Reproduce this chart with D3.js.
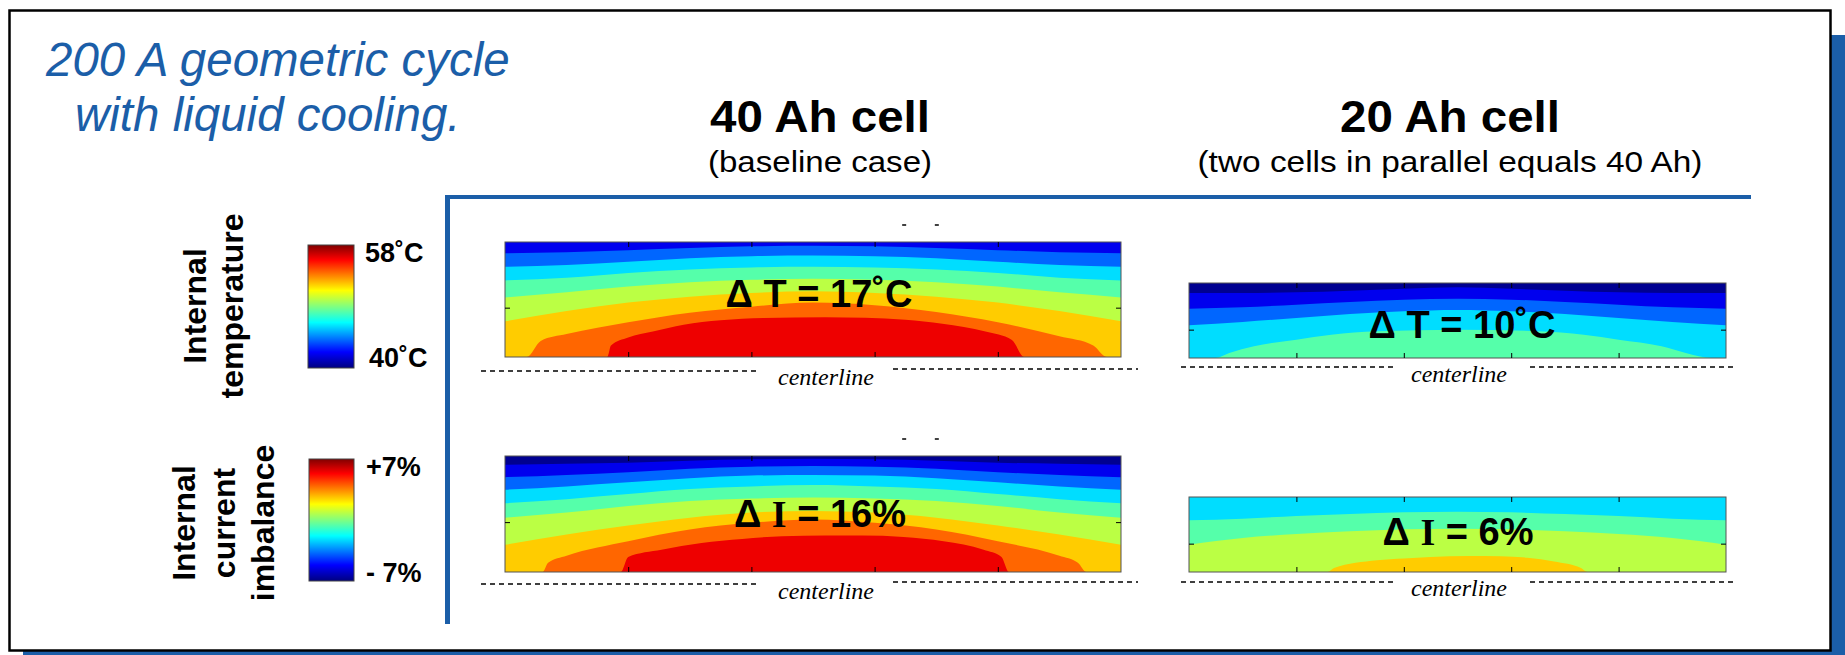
<!doctype html>
<html lang="en">
<head>
  <meta charset="utf-8">
  <title>200 A geometric cycle</title>
  <style>
    body { margin: 0; background: #fff; }
    svg { display: block; }
    .sans { font-family: "Liberation Sans", Arial, sans-serif; fill: #000; }
    .cl { font-family: "Liberation Serif", "Times New Roman", serif; font-style: italic; font-size: 24px; fill: #000; }
    .tick line { stroke: #000; }
    .domain { display: none; }
  </style>
</head>
<body>
<div id="chart"></div>
<script src="https://cdn.jsdelivr.net/npm/d3@7"></script>
<script>
// jet levels used for the contour bands (index = level)
var levelColors = ['#000090', '#0000ee', '#0066ff', '#00ddff', '#55ffaa', '#bbff44', '#ffcc00', '#ff6600', '#ee0000'];
// colour bar stops, top to bottom
var jetStops = [[0, '#800000'], [0.12, '#ff0000'], [0.37, '#ffff00'], [0.5, '#80ff80'], [0.63, '#00ffff'], [0.87, '#0000ff'], [1, '#000080']];

var cellTitles = ['40 Ah cell', '20 Ah cell'];
var cellNotes = ['(baseline case)', '(two cells in parallel equals 40 Ah)'];
var rowNames = [['Internal', 'temperature'], ['Internal', 'current', 'imbalance']];
var barLabels = [['58˚C', '40˚C'], ['+7%', '- 7%']];
var deltaLabels = [['Δ ', 'T', ' = 17˚C'], ['Δ ', 'T', ' = 10˚C'], ['Δ ', 'I', ' = 16%'], ['Δ ', 'I', ' = 6%']];
var xTicks = [0.2, 0.4, 0.6, 0.8];
var yTicks = [0.571, 0.622, 0.57, 0.622];

// contour boundaries: [u across, v down from the top]
var temp40Base = 1;
var temp40Bounds = [
  [[0,.098],[.1,.089],[.2,.071],[.3,.053],[.4,.038],[.5,.033],[.6,.038],[.7,.053],[.8,.071],[.9,.089],[1,.098]],
  [[0,.216],[.1,.201],[.2,.172],[.3,.142],[.4,.124],[.5,.118],[.6,.124],[.7,.142],[.8,.172],[.9,.201],[1,.216]],
  [[0,.334],[.1,.311],[.2,.269],[.3,.240],[.4,.222],[.5,.216],[.6,.222],[.7,.240],[.8,.269],[.9,.311],[1,.334]],
  [[0,.482],[.1,.438],[.2,.388],[.3,.349],[.4,.328],[.5,.320],[.6,.328],[.7,.349],[.8,.388],[.9,.438],[1,.482]],
  [[0,.689],[.1,.601],[.2,.527],[.3,.476],[.4,.444],[.5,.429],[.6,.444],[.7,.476],[.8,.527],[.9,.601],[1,.689]],
  [[0,1],[.035,1],[.058,.86],[.1,.801],[.2,.698],[.3,.615],[.4,.562],[.5,.527],[.6,.55],[.7,.609],[.8,.698],[.9,.82],[.955,.9],[.977,1],[1,1]],
  [[0,1],[.166,1],[.172,.9],[.2,.83],[.24,.778],[.29,.719],[.35,.68],[.42,.66],[.52,.654],[.65,.675],[.71,.71],[.78,.778],[.823,.852],[.843,1],[1,1]]
];
var temp20Base = 0;
var temp20Bounds = [
  [[0,.133],[.1,.133],[.2,.124],[.3,.102],[.4,.076],[.5,.058],[.6,.076],[.7,.102],[.8,.124],[.9,.133],[1,.133]],
  [[0,.342],[.1,.324],[.2,.289],[.3,.253],[.4,.222],[.5,.209],[.6,.222],[.7,.253],[.8,.289],[.9,.324],[1,.342]],
  [[0,.564],[.1,.52],[.2,.467],[.3,.413],[.4,.378],[.5,.36],[.6,.378],[.7,.413],[.8,.467],[.9,.52],[1,.564]],
  [[0,1],[.049,1],[.075,.933],[.121,.844],[.2,.756],[.265,.689],[.35,.644],[.5,.622],[.65,.644],[.735,.689],[.8,.756],[.88,.844],[.925,.933],[.974,1],[1,1]]
];
var curr40Base = 0;
var curr40Bounds = [
  [[0,.076],[.1,.067],[.2,.058],[.3,.041],[.4,.029],[.5,.023],[.6,.029],[.7,.041],[.8,.058],[.9,.067],[1,.076]],
  [[0,.183],[.1,.163],[.2,.14],[.3,.11],[.4,.093],[.5,.087],[.6,.093],[.7,.11],[.8,.14],[.9,.163],[1,.183]],
  [[0,.291],[.1,.262],[.2,.227],[.3,.192],[.4,.169],[.5,.163],[.6,.169],[.7,.192],[.8,.227],[.9,.262],[1,.291]],
  [[0,.407],[.1,.372],[.2,.328],[.3,.285],[.4,.262],[.5,.25],[.6,.262],[.7,.285],[.8,.328],[.9,.372],[1,.407]],
  [[0,.532],[.1,.488],[.2,.43],[.3,.387],[.4,.366],[.5,.358],[.6,.366],[.7,.387],[.8,.43],[.9,.488],[1,.532]],
  [[0,.765],[.1,.677],[.2,.599],[.3,.532],[.4,.488],[.5,.474],[.6,.488],[.7,.532],[.8,.599],[.9,.677],[1,.765]],
  [[0,1],[.061,1],[.07,.92],[.1,.86],[.2,.735],[.3,.634],[.4,.576],[.5,.547],[.6,.576],[.7,.634],[.8,.735],[.9,.86],[.93,.92],[.944,1],[1,1]],
  [[0,1],[.188,1],[.2,.87],[.254,.808],[.319,.75],[.385,.715],[.45,.692],[.52,.686],[.58,.686],[.647,.698],[.712,.735],[.777,.808],[.806,.87],[.818,1],[1,1]]
];
var curr20Base = 3;
var curr20Bounds = [
  [[0,.311],[.1,.289],[.2,.253],[.3,.227],[.4,.204],[.5,.196],[.6,.204],[.7,.227],[.8,.253],[.9,.289],[1,.311]],
  [[0,.636],[.1,.547],[.2,.493],[.3,.458],[.4,.431],[.5,.422],[.6,.431],[.7,.458],[.8,.493],[.9,.547],[1,.636]],
  [[0,1],[.258,1],[.27,.947],[.35,.844],[.4,.82],[.45,.8],[.52,.787],[.58,.79],[.63,.81],[.68,.86],[.73,.947],[.742,1],[1,1]]
];
// the two stray "- -" marks above the 40 Ah maps
var stubMarks = [0.648, 0.701];

(function(){
  var width = 1845, height = 655;
  var blue = '#1b5ea8';

  var svg = d3.select('#chart').append('svg')
      .attr('width', width)
      .attr('height', height);

  // slide frame with its offset blue shadow
  svg.append('rect').attr('x', 23).attr('y', 35).attr('width', 1830).attr('height', 640).attr('fill', blue);
  svg.append('rect').attr('x', 9.5).attr('y', 10.5).attr('width', 1821).attr('height', 640)
      .attr('fill', '#fff').attr('stroke', '#000').attr('stroke-width', 2.5);

  // title
  var title = svg.append('text').attr('class', 'sans')
      .style('font-style', 'italic').style('font-size', '47.5px').style('fill', blue);
  title.append('tspan').attr('x', 46).attr('y', 76).text('200 A geometric cycle');
  title.append('tspan').attr('x', 75).attr('y', 131).text('with liquid cooling.');

  // blue L
  svg.append('line').attr('x1', 447.5).attr('x2', 447.5).attr('y1', 195).attr('y2', 624)
      .attr('stroke', blue).attr('stroke-width', 5);
  svg.append('line').attr('x1', 445).attr('x2', 1751).attr('y1', 197).attr('y2', 197)
      .attr('stroke', blue).attr('stroke-width', 4);

  // column headers
  var colX = [820, 1450];
  var noteLen = [224, 505];
  cellTitles.forEach(function(t, i) {
    svg.append('text').attr('class', 'sans').attr('x', colX[i]).attr('y', 132)
        .attr('text-anchor', 'middle').style('font-size', '44px').style('font-weight', 'bold')
        .attr('textLength', 220).attr('lengthAdjust', 'spacingAndGlyphs').text(t);
    svg.append('text').attr('class', 'sans').attr('x', colX[i]).attr('y', 172)
        .attr('text-anchor', 'middle').style('font-size', '30px')
        .attr('textLength', noteLen[i]).attr('lengthAdjust', 'spacingAndGlyphs').text(cellNotes[i]);
  });

  // row names, rotated
  var rowBase = [[206, 243], [195, 235, 274]];
  var rowMid = [306, 523];
  rowNames.forEach(function(lines, r) {
    lines.forEach(function(s, k) {
      svg.append('text').attr('class', 'sans')
          .attr('transform', 'translate(' + rowBase[r][k] + ',' + rowMid[r] + ') rotate(-90)')
          .attr('text-anchor', 'middle').style('font-size', '32px').style('font-weight', 'bold')
          .text(s);
    });
  });

  // colour bars
  var grad = svg.append('defs').append('linearGradient').attr('id', 'jet')
      .attr('x1', 0).attr('x2', 0).attr('y1', 0).attr('y2', 1);
  grad.selectAll('stop').data(jetStops).enter().append('stop')
      .attr('offset', function(d) { return d[0]; })
      .attr('stop-color', function(d) { return d[1]; });

  var bars = [{x: 308, y0: 245, y1: 368, lx: [365, 369], ly: [262, 367]},
              {x: 309, y0: 459, y1: 581, lx: [366, 366], ly: [476, 582]}];
  bars.forEach(function(b, r) {
    svg.append('rect').attr('x', b.x).attr('y', b.y0).attr('width', 354 - b.x).attr('height', b.y1 - b.y0)
        .attr('fill', 'url(#jet)').attr('stroke', '#444').attr('stroke-width', 1);
    barLabels[r].forEach(function(s, k) {
      svg.append('text').attr('class', 'sans').attr('x', b.lx[k]).attr('y', b.ly[k])
          .style('font-size', '27px').style('font-weight', 'bold').text(s);
    });
  });

  // contour maps
  var panels = [
    {base: temp40Base, bounds: temp40Bounds, x0: 505, x1: 1121, y0: 242, y1: 357,
     tx: 819, ty: 307, cl: {y: [371, 369], l: [481, 760], r: [893, 1138], tx: 826, ty: 385}, stubs: true},
    {base: temp20Base, bounds: temp20Bounds, x0: 1189, x1: 1726, y0: 283, y1: 358,
     tx: 1462, ty: 338, cl: {y: [367, 367], l: [1181, 1393], r: [1530, 1736], tx: 1459, ty: 382}},
    {base: curr40Base, bounds: curr40Bounds, x0: 505, x1: 1121, y0: 456, y1: 572,
     tx: 820, ty: 527, cl: {y: [584, 582], l: [481, 760], r: [893, 1138], tx: 826, ty: 599}, stubs: true},
    {base: curr20Base, bounds: curr20Bounds, x0: 1189, x1: 1726, y0: 497, y1: 572,
     tx: 1458, ty: 545, cl: {y: [582, 582], l: [1181, 1393], r: [1530, 1736], tx: 1459, ty: 596}}
  ];

  panels.forEach(function(p, i) {
    var x = d3.scaleLinear().domain([0, 1]).range([p.x0, p.x1]);
    var y = d3.scaleLinear().domain([0, 1]).range([p.y0, p.y1]);
    var g = svg.append('g');

    g.append('clipPath').attr('id', 'clip' + i).append('rect')
        .attr('x', p.x0).attr('y', p.y0).attr('width', p.x1 - p.x0).attr('height', p.y1 - p.y0);
    var body = g.append('g').attr('clip-path', 'url(#clip' + i + ')');

    body.append('rect').attr('x', p.x0).attr('y', p.y0).attr('width', p.x1 - p.x0).attr('height', p.y1 - p.y0)
        .attr('fill', levelColors[p.base]);

    var area = d3.area()
        .x(function(d) { return x(d[0]); })
        .y0(y(1))
        .y1(function(d) { return y(d[1]); })
        .curve(d3.curveMonotoneX);

    body.selectAll('path.band').data(p.bounds).enter().append('path')
        .attr('class', 'band')
        .attr('d', area)
        .attr('fill', function(d, k) { return levelColors[p.base + k + 1]; });

    // frame and inward ticks
    g.append('rect').attr('x', p.x0).attr('y', p.y0).attr('width', p.x1 - p.x0).attr('height', p.y1 - p.y0)
        .attr('fill', 'none').attr('stroke', '#555').attr('stroke-width', 1);
    g.append('g').attr('transform', 'translate(0,' + p.y0 + ')')
        .call(d3.axisTop(x).tickValues(xTicks).tickSize(-5).tickSizeOuter(0).tickFormat(''));
    g.append('g').attr('transform', 'translate(0,' + p.y1 + ')')
        .call(d3.axisBottom(x).tickValues(xTicks).tickSize(-5).tickSizeOuter(0).tickFormat(''));
    g.append('g').attr('transform', 'translate(' + p.x0 + ',0)')
        .call(d3.axisLeft(y).tickValues([yTicks[i]]).tickSize(-5).tickSizeOuter(0).tickFormat(''));
    g.append('g').attr('transform', 'translate(' + p.x1 + ',0)')
        .call(d3.axisRight(y).tickValues([yTicks[i]]).tickSize(-5).tickSizeOuter(0).tickFormat(''));

    if (p.stubs) {
      g.selectAll('line.stub').data(stubMarks).enter().append('line')
          .attr('class', 'stub')
          .attr('x1', function(d) { return x(d) - 2; })
          .attr('x2', function(d) { return x(d) + 2; })
          .attr('y1', p.y0 - 17).attr('y2', p.y0 - 17)
          .attr('stroke', '#000').attr('stroke-width', 1.5);
    }

    // delta label
    var lab = g.append('text').attr('class', 'sans').attr('x', p.tx).attr('y', p.ty)
        .attr('text-anchor', 'middle').style('font-size', '38px').style('font-weight', 'bold');
    var parts = deltaLabels[i];
    lab.append('tspan').text(parts[0]);
    lab.append('tspan').style('font-family', parts[1] === 'I' ? '"Liberation Serif", "Times New Roman", serif' : null)
        .text(parts[1]);
    lab.append('tspan').text(parts[2]);

    // centerline
    [[p.cl.l, p.cl.y[0]], [p.cl.r, p.cl.y[1]]].forEach(function(seg) {
      g.append('line').attr('x1', seg[0][0]).attr('x2', seg[0][1]).attr('y1', seg[1]).attr('y2', seg[1])
          .attr('stroke', '#000').attr('stroke-width', 1.3).attr('stroke-dasharray', '5,4');
    });
    g.append('text').attr('class', 'cl').attr('x', p.cl.tx).attr('y', p.cl.ty)
        .attr('text-anchor', 'middle').text('centerline');
  });
})();
</script>
</body>
</html>
